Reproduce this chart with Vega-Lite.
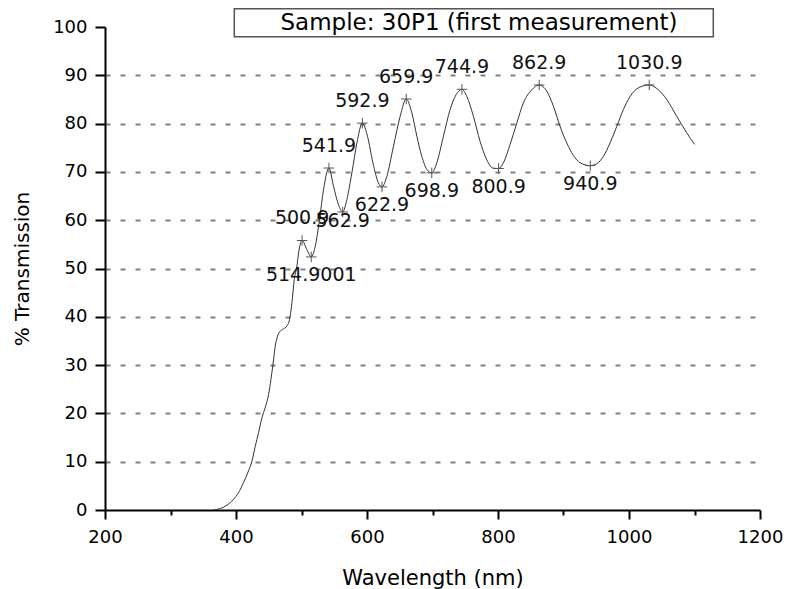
{
  "$schema": "https://vega.github.io/schema/vega-lite/v6.json",
  "width": 655,
  "height": 483,
  "autosize": {"type": "none"},
  "padding": {"left": 105, "top": 27, "right": 28, "bottom": 79},
  "background": "white",
  "config": {
    "view": {"stroke": null},
    "font": "DejaVu Sans",
    "axis": {"labelFont": "DejaVu Sans", "titleFont": "DejaVu Sans", "labelColor": "black", "titleColor": "black", "titleFontWeight": "normal"}
  },
  "datasets": {
    "spectrum": [
      {"wl": 365, "t": 0}, {"wl": 376, "t": 0.3}, {"wl": 386.2, "t": 1.0}, {"wl": 396.2, "t": 2.2},
      {"wl": 403.9, "t": 3.6}, {"wl": 411.5, "t": 5.7}, {"wl": 419.1, "t": 8.1}, {"wl": 424.3, "t": 10.1},
      {"wl": 429.4, "t": 13.2}, {"wl": 434.4, "t": 16.0}, {"wl": 439.6, "t": 19.1}, {"wl": 444.6, "t": 21.2},
      {"wl": 449.7, "t": 23.9}, {"wl": 453.3, "t": 27.0}, {"wl": 456.4, "t": 30.1}, {"wl": 459.9, "t": 33.9},
      {"wl": 463.4, "t": 36.0}, {"wl": 467.5, "t": 37.0}, {"wl": 472.5, "t": 37.5}, {"wl": 477.7, "t": 38.1},
      {"wl": 481.7, "t": 39.4}, {"wl": 485.4, "t": 42.9}, {"wl": 488.9, "t": 47.7}, {"wl": 493, "t": 50.5},
      {"wl": 495.5, "t": 53.2}, {"wl": 500.9, "t": 55.8}, {"wl": 508.3, "t": 53.9}, {"wl": 514.9, "t": 52.4},
      {"wl": 521, "t": 54.6}, {"wl": 527.5, "t": 60.1}, {"wl": 533.6, "t": 66.3}, {"wl": 541.9, "t": 70.8},
      {"wl": 548.9, "t": 67.0}, {"wl": 556.5, "t": 63.2}, {"wl": 562.9, "t": 61.7}, {"wl": 569.3, "t": 64.3},
      {"wl": 576.9, "t": 69.8}, {"wl": 584.6, "t": 76.0}, {"wl": 592.9, "t": 80.1}, {"wl": 600.7, "t": 77.4},
      {"wl": 609, "t": 71.9}, {"wl": 617.5, "t": 67.7}, {"wl": 622.9, "t": 66.9}, {"wl": 630.3, "t": 69.1},
      {"wl": 640.4, "t": 75.3}, {"wl": 650.6, "t": 81.5}, {"wl": 659.9, "t": 85.1}, {"wl": 668.5, "t": 82.2},
      {"wl": 676.1, "t": 77.4}, {"wl": 683.7, "t": 73.2}, {"wl": 691.4, "t": 70.5}, {"wl": 698.9, "t": 69.8},
      {"wl": 706.6, "t": 71.9}, {"wl": 716.7, "t": 77.4}, {"wl": 726.9, "t": 82.9}, {"wl": 736.1, "t": 86.0},
      {"wl": 744.9, "t": 87.1}, {"wl": 752.4, "t": 85.6}, {"wl": 762.5, "t": 81.5}, {"wl": 772.7, "t": 76.3},
      {"wl": 782.9, "t": 72.5}, {"wl": 792.1, "t": 70.8}, {"wl": 800.9, "t": 70.7}, {"wl": 808.3, "t": 71.9},
      {"wl": 818.5, "t": 75.7}, {"wl": 828.7, "t": 80.1}, {"wl": 838.8, "t": 84.3}, {"wl": 851.6, "t": 87.0},
      {"wl": 862.9, "t": 88.0}, {"wl": 874.5, "t": 86.7}, {"wl": 884.6, "t": 83.6}, {"wl": 894.8, "t": 79.4},
      {"wl": 905, "t": 76.0}, {"wl": 915.1, "t": 73.4}, {"wl": 925.3, "t": 71.9}, {"wl": 940.9, "t": 71.3},
      {"wl": 950.8, "t": 71.7}, {"wl": 960.9, "t": 73.2}, {"wl": 971.1, "t": 76.0}, {"wl": 981.3, "t": 79.4},
      {"wl": 991.4, "t": 82.9}, {"wl": 1001.6, "t": 85.6}, {"wl": 1014.3, "t": 87.4}, {"wl": 1030.9, "t": 88.0},
      {"wl": 1044.8, "t": 87.0}, {"wl": 1057.6, "t": 85.0}, {"wl": 1072.9, "t": 81.5}, {"wl": 1088.1, "t": 78.1},
      {"wl": 1100, "t": 75.7}
    ],
    "extrema": [
      {"wl": 500.9, "t": 55.8, "kind": "max", "label": "500.9"},
      {"wl": 514.9001, "t": 52.4, "kind": "min", "label": "514.9001"},
      {"wl": 541.9, "t": 70.8, "kind": "max", "label": "541.9"},
      {"wl": 562.9, "t": 61.7, "kind": "min", "label": "562.9"},
      {"wl": 592.9, "t": 80.1, "kind": "max", "label": "592.9"},
      {"wl": 622.9, "t": 66.9, "kind": "min", "label": "622.9"},
      {"wl": 659.9, "t": 85.1, "kind": "max", "label": "659.9"},
      {"wl": 698.9, "t": 69.8, "kind": "min", "label": "698.9"},
      {"wl": 744.9, "t": 87.1, "kind": "max", "label": "744.9"},
      {"wl": 800.9, "t": 70.7, "kind": "min", "label": "800.9"},
      {"wl": 862.9, "t": 88.0, "kind": "max", "label": "862.9"},
      {"wl": 940.9, "t": 71.3, "kind": "min", "label": "940.9"},
      {"wl": 1030.9, "t": 88.0, "kind": "max", "label": "1030.9"}
    ],
    "caption": [
      {"x1": 397.4, "x2": 1128.7, "y1": 103.8, "y2": 98.0, "xc": 771, "yc": 100.9, "text": "Sample: 30P1 (first measurement)"}
    ]
  },
  "layer": [
    {
      "data": {"name": "spectrum"},
      "mark": {"type": "line", "stroke": "#333333", "strokeWidth": 1, "interpolate": "monotone"},
      "encoding": {
        "x": {
          "field": "wl", "type": "quantitative",
          "scale": {"domain": [200, 1200], "nice": false, "zero": false},
          "axis": {
            "values": [200, 300, 400, 500, 600, 700, 800, 900, 1000, 1100, 1200],
            "labelExpr": "datum.value % 200 === 0 ? datum.label : ''",
            "format": "d",
            "tickSize": {"condition": {"test": "datum.value % 200 === 0", "value": 9}, "value": 5},
            "tickColor": "black", "tickWidth": 2,
            "domainColor": "black", "domainWidth": 2,
            "labelFontSize": 18, "labelPadding": 9, "labelOverlap": false, "labelFlush": false,
            "grid": false,
            "title": "Wavelength (nm)", "titleFontSize": 21, "titlePadding": 21
          }
        },
        "y": {
          "field": "t", "type": "quantitative",
          "scale": {"domain": [0, 100], "nice": false},
          "axis": {
            "values": [0, 5, 10, 15, 20, 25, 30, 35, 40, 45, 50, 55, 60, 65, 70, 75, 80, 85, 90, 95, 100],
            "labelExpr": "datum.value % 10 === 0 ? datum.label : ''",
            "tickSize": {"condition": {"test": "datum.value % 10 === 0", "value": 10}, "value": 6},
            "tickColor": "black", "tickWidth": 2,
            "domainColor": "black", "domainWidth": 2,
            "labelFontSize": 18, "labelPadding": 8, "labelOverlap": false, "labelFlush": false,
            "grid": true, "gridDash": [5, 10], "gridColor": "#808080", "gridWidth": 2,
            "gridOpacity": {"condition": {"test": "datum.value % 10 !== 0 || datum.value === 0 || datum.value === 100", "value": 0}, "value": 1},
            "title": "% Transmission", "titleFontSize": 20, "titlePadding": 20
          }
        }
      }
    },
    {
      "data": {"name": "extrema"},
      "mark": {"type": "point", "shape": "M-1,0L1,0M0,-1L0,1", "size": 110, "filled": false, "stroke": "#555555", "strokeWidth": 1, "opacity": 1},
      "encoding": {
        "x": {"field": "wl", "type": "quantitative"},
        "y": {"field": "t", "type": "quantitative"}
      }
    },
    {
      "data": {"name": "extrema"},
      "transform": [{"filter": "datum.kind === 'max'"}],
      "mark": {"type": "text", "fontSize": 19, "font": "DejaVu Sans", "color": "#111111", "baseline": "middle", "align": "center", "dy": -22},
      "encoding": {
        "x": {"field": "wl", "type": "quantitative"},
        "y": {"field": "t", "type": "quantitative"},
        "text": {"field": "label"}
      }
    },
    {
      "data": {"name": "extrema"},
      "transform": [{"filter": "datum.kind === 'min' && datum.label !== '562.9'"}],
      "mark": {"type": "text", "fontSize": 19, "font": "DejaVu Sans", "color": "#111111", "baseline": "middle", "align": "center", "dy": 18},
      "encoding": {
        "x": {"field": "wl", "type": "quantitative"},
        "y": {"field": "t", "type": "quantitative"},
        "text": {"field": "label"}
      }
    },
    {
      "data": {"name": "extrema"},
      "transform": [{"filter": "datum.label === '562.9'"}],
      "mark": {"type": "text", "fontSize": 19, "font": "DejaVu Sans", "color": "#111111", "baseline": "middle", "align": "center", "dy": 9},
      "encoding": {
        "x": {"field": "wl", "type": "quantitative"},
        "y": {"field": "t", "type": "quantitative"},
        "text": {"field": "label"}
      }
    },
    {
      "data": {"name": "caption"},
      "mark": {"type": "rect", "fill": "white", "stroke": "#555555", "strokeWidth": 1.5, "clip": false},
      "encoding": {
        "x": {"field": "x1", "type": "quantitative"},
        "x2": {"field": "x2"},
        "y": {"field": "y1", "type": "quantitative"},
        "y2": {"field": "y2"}
      }
    },
    {
      "data": {"name": "caption"},
      "mark": {"type": "text", "fontSize": 23, "font": "DejaVu Sans", "color": "black", "baseline": "middle", "align": "center", "clip": false},
      "encoding": {
        "x": {"field": "xc", "type": "quantitative"},
        "y": {"field": "yc", "type": "quantitative"},
        "text": {"field": "text"}
      }
    }
  ]
}
